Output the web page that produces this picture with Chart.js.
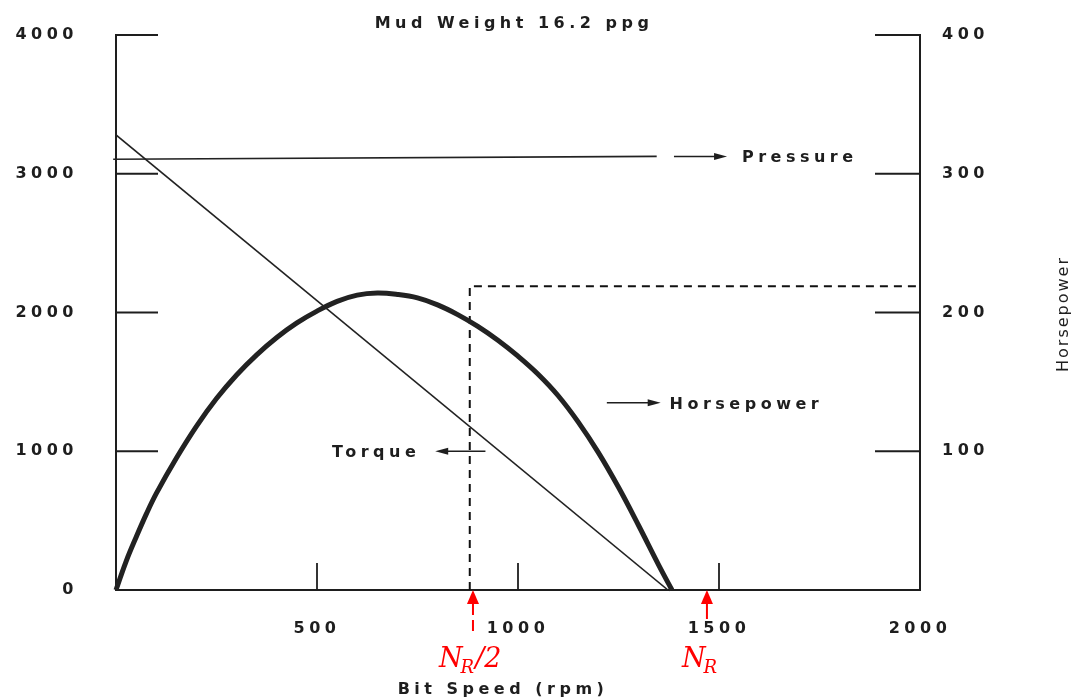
<!DOCTYPE html>
<html>
<head>
    <meta charset="UTF-8">
    <title>Mud Weight 16.2 ppg</title>
    <script src="https://cdn.jsdelivr.net/npm/chart.js@4.4.0/dist/chart.umd.min.js"></script>
    <style>
        html, body { margin: 0; padding: 0; background: #fff; }
    </style>
</head>
<body>
    <canvas id="chart" width="1078" height="698"></canvas>

    <script>
        // Horsepower curve (bit speed in rpm, horsepower on right axis)
        var hpRpm    = [0, 25, 50, 75, 100, 150, 200, 250, 300, 350, 400, 450, 500, 550, 600, 650, 700, 750, 800, 850, 900, 950, 1000, 1050, 1100, 1150, 1200, 1250, 1300, 1350, 1383];
        var hpValues = [0, 20.5, 38, 54.5, 69.5, 95, 118, 138, 155, 169.5, 182, 192.5, 201, 208, 212.5, 214, 213, 210.5, 205.5, 198.5, 190, 180, 168.5, 155.5, 140, 121, 99, 74, 46.5, 18, 0];

        // Torque and pressure straight lines (left axis)
        var torqueRpm      = [0, 1373];
        var torqueValues   = [3280, 0];
        var pressureRpm    = [-7, 1345];
        var pressureValues = [3105, 3125];

        // Dashed limit box (rpm, horsepower)
        var limitRpm = [880, 880, 2000];
        var limitHp  = [0, 219, 219];

        // Tick labels
        var xTicks     = [500, 1000, 1500, 2000];
        var leftTicks  = [0, 1000, 2000, 3000, 4000];
        var rightTicks = [100, 200, 300, 400];

        // Red markers N_R/2 and N_R
        var markRpm    = [888, 1470];

        var ink = '#1e1e1e';
        var red = '#ff0000';
        var fontFamily = '"DejaVu Sans", "Liberation Sans", sans-serif';

        function toPoints(xs, ys) {
            var pts = [];
            for (var i = 0; i < xs.length; i++) {
                pts.push({ x: xs[i], y: ys[i] });
            }
            return pts;
        }

        function line(ctx, x1, y1, x2, y2) {
            ctx.beginPath();
            ctx.moveTo(x1, y1);
            ctx.lineTo(x2, y2);
            ctx.stroke();
        }

        // small arrow: shaft from (x1,y) to tip at (x2,y)
        function arrow(ctx, x1, x2, y) {
            var dir = x2 > x1 ? 1 : -1;
            ctx.lineWidth = 1.5;
            line(ctx, x1, y, x2 - dir * 6, y);
            ctx.beginPath();
            ctx.moveTo(x2, y);
            ctx.lineTo(x2 - dir * 13, y - 3.5);
            ctx.lineTo(x2 - dir * 13, y + 3.5);
            ctx.closePath();
            ctx.fill();
        }

        function text(ctx, str, x, y, align, font, spacing) {
            ctx.save();
            ctx.font = font;
            ctx.letterSpacing = spacing + 'px';
            ctx.fillStyle = ink;
            ctx.textAlign = align;
            ctx.textBaseline = 'alphabetic';
            ctx.fillText(str, x, y);
            ctx.restore();
        }

        // N with subscript R, optionally followed by "/2"
        function redLabel(ctx, tail, x, y) {
            ctx.save();
            ctx.letterSpacing = '0px';
            ctx.fillStyle = red;
            ctx.textAlign = 'left';
            ctx.textBaseline = 'alphabetic';
            ctx.font = 'italic 27px "DejaVu Serif", serif';
            ctx.fillText('N', x, y);
            var w = ctx.measureText('N').width;
            ctx.font = 'italic 18px "DejaVu Serif", serif';
            ctx.fillText('R', x + w - 2, y + 6);
            var w2 = ctx.measureText('R').width;
            if (tail) {
                ctx.font = 'italic 27px "DejaVu Serif", serif';
                ctx.fillText(tail, x + w + w2 - 1, y);
            }
            ctx.restore();
        }

        var labelFont = 'bold 16px ' + fontFamily;

        var chartDecor = {
            id: 'chartDecor',
            beforeDraw: function(chart) {
                chart.ctx.letterSpacing = '4.5px';
            },
            afterDraw: function(chart) {
                var ctx = chart.ctx;
                var area = chart.chartArea;
                var xs = chart.scales.x, ys = chart.scales.y, yr = chart.scales.y1;

                ctx.save();
                ctx.strokeStyle = ink;
                ctx.fillStyle = ink;
                ctx.lineWidth = 1.8;

                // inward tick marks
                leftTicks.forEach(function(v) {
                    if (v === 0) return;
                    var py = ys.getPixelForValue(v);
                    line(ctx, area.left, py, area.left + 42, py);
                });
                rightTicks.forEach(function(v) {
                    var py = yr.getPixelForValue(v);
                    line(ctx, area.right - 45, py, area.right, py);
                });
                xTicks.forEach(function(v) {
                    if (v >= 2000) return;
                    var px = xs.getPixelForValue(v);
                    line(ctx, px, area.bottom, px, area.bottom - 27);
                });

                // curve labels with arrows
                var py = ys.getPixelForValue(3125);
                arrow(ctx, xs.getPixelForValue(1388), xs.getPixelForValue(1520), py);
                text(ctx, 'Pressure', xs.getPixelForValue(1557), py + 6, 'left', labelFont, 4.5);

                py = yr.getPixelForValue(135);
                arrow(ctx, xs.getPixelForValue(1221), xs.getPixelForValue(1355), py);
                text(ctx, 'Horsepower', xs.getPixelForValue(1377), py + 6, 'left', labelFont, 4.5);

                py = ys.getPixelForValue(1000);
                arrow(ctx, xs.getPixelForValue(919), xs.getPixelForValue(794), py);
                text(ctx, 'Torque', xs.getPixelForValue(757), py + 6, 'right', labelFont, 4.5);

                // titles
                text(ctx, 'Mud Weight 16.2 ppg', 514, 28, 'center', labelFont, 4.5);
                text(ctx, 'Bit Speed (rpm)', 503, 694, 'center', labelFont, 4.5);

                ctx.save();
                ctx.translate(1062, 315);
                ctx.rotate(-Math.PI / 2);
                text(ctx, 'Horsepower', 1, 6, 'center', '16px ' + fontFamily, 2);
                ctx.restore();

                // red markers under the axis
                ctx.strokeStyle = red;
                ctx.fillStyle = red;
                ctx.lineWidth = 2;
                markRpm.forEach(function(v, i) {
                    var px = xs.getPixelForValue(v);
                    ctx.beginPath();
                    ctx.moveTo(px, area.bottom);
                    ctx.lineTo(px - 6, area.bottom + 14);
                    ctx.lineTo(px + 6, area.bottom + 14);
                    ctx.closePath();
                    ctx.fill();
                    if (i === 0) {
                        ctx.setLineDash([11, 5]);
                        line(ctx, px, area.bottom + 14, px, area.bottom + 43);
                        ctx.setLineDash([]);
                    } else {
                        line(ctx, px, area.bottom + 14, px, area.bottom + 29);
                    }
                });
                var p0 = xs.getPixelForValue(markRpm[0]);
                var p1 = xs.getPixelForValue(markRpm[1]);
                redLabel(ctx, '/2', p0 - 34, 667);
                redLabel(ctx, '', p1 - 25, 667);

                ctx.restore();
            }
        };

        var tickFont = { family: fontFamily, size: 16, weight: 'bold' };

        // fixed axis box sizes; drop the label overhang so the plot top sits at the padding
        function fitVertical(width) {
            return function(s) {
                s.width = width;
                s.paddingTop = 0;
                s.paddingBottom = 0;
            };
        }

        var ctx = document.getElementById('chart').getContext('2d');
        var myChart = new Chart(ctx, {
            type: 'line',
            data: {
                datasets: [{
                    label: 'Horsepower',
                    data: toPoints(hpRpm, hpValues),
                    yAxisID: 'y1',
                    borderColor: '#222',
                    borderWidth: 5,
                    pointRadius: 0,
                    tension: 0.4,
                    clip: 4
                }, {
                    label: 'Torque',
                    data: toPoints(torqueRpm, torqueValues),
                    yAxisID: 'y',
                    borderColor: '#222',
                    borderWidth: 1.6,
                    pointRadius: 0
                }, {
                    label: 'Pressure',
                    data: toPoints(pressureRpm, pressureValues),
                    yAxisID: 'y',
                    borderColor: '#222',
                    borderWidth: 1.6,
                    pointRadius: 0,
                    clip: false
                }, {
                    label: 'Limit',
                    data: toPoints(limitRpm, limitHp),
                    yAxisID: 'y1',
                    borderColor: '#111',
                    borderWidth: 2,
                    borderDash: [8, 6],
                    pointRadius: 0
                }]
            },
            options: {
                responsive: false,
                animation: false,
                layout: { padding: { top: 35, left: 0, right: 0, bottom: 0 } },
                plugins: {
                    legend: { display: false },
                    tooltip: { enabled: false }
                },
                scales: {
                    x: {
                        type: 'linear',
                        position: 'bottom',
                        min: 0,
                        max: 2000,
                        grid: { display: false, drawTicks: false },
                        border: { display: true, color: ink, width: 2 },
                        afterBuildTicks: function(s) {
                            s.ticks = xTicks.map(function(v) { return { value: v }; });
                        },
                        afterFit: function(s) { s.height = 108; },
                        ticks: {
                            autoSkip: false,
                            maxRotation: 0,
                            padding: 29,
                            color: ink,
                            font: tickFont,
                            callback: function(v) { return String(v); }
                        }
                    },
                    y: {
                        position: 'left',
                        min: 0,
                        max: 4000,
                        grid: { display: false, drawTicks: false },
                        border: { display: true, color: ink, width: 2 },
                        afterBuildTicks: function(s) {
                            s.ticks = leftTicks.map(function(v) { return { value: v }; });
                        },
                        afterFit: fitVertical(116),
                        ticks: {
                            padding: 38,
                            color: ink,
                            font: tickFont,
                            callback: function(v) { return String(v); }
                        }
                    },
                    y1: {
                        position: 'right',
                        min: 0,
                        max: 400,
                        grid: { display: false, drawTicks: false },
                        border: { display: true, color: ink, width: 2 },
                        afterBuildTicks: function(s) {
                            s.ticks = rightTicks.map(function(v) { return { value: v }; });
                        },
                        afterFit: fitVertical(158),
                        ticks: {
                            padding: 22,
                            color: ink,
                            font: tickFont,
                            callback: function(v) { return String(v); }
                        }
                    }
                }
            },
            plugins: [chartDecor]
        });
    </script>
</body>
</html>
